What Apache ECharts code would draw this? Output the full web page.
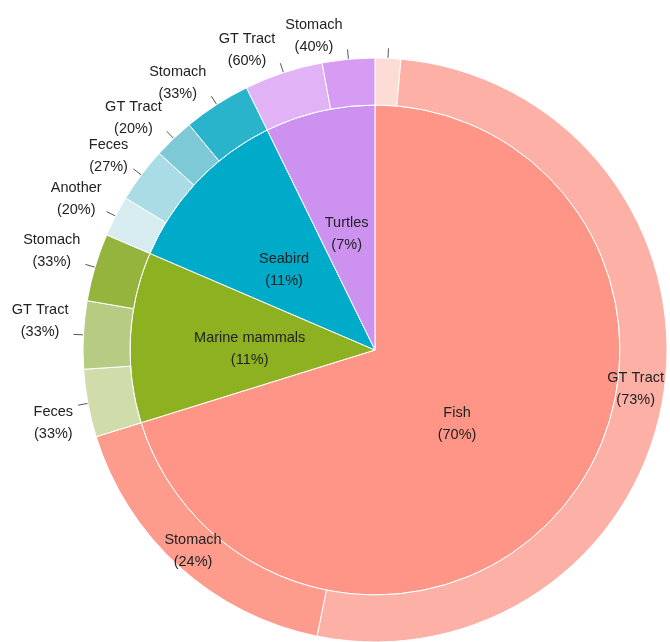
<!DOCTYPE html>
<html>
<head>
<meta charset="utf-8">
<script src="https://cdn.jsdelivr.net/npm/echarts@6/dist/echarts.min.js"></script>
<style>
  html, body { margin: 0; padding: 0; background: #fff; }
  #container { width: 670px; height: 642px; }
</style>
</head>
<body>
<div id="container"></div>
<script>
// inner pie: groups and their share (%)
var groups = ['Fish', 'Marine mammals', 'Seabird', 'Turtles'];
var groupShare = [70.2, 11.25, 11.3, 7.25];

// outer ring: sample types within each group (% of group)
var fishParts = ['', 'GT Tract', 'Stomach'];
var fishShare = [2, 73, 24];
var mammalParts = ['Feces', 'GT Tract', 'Stomach'];
var mammalShare = [33, 33, 33];
var birdParts = ['Another', 'Feces', 'GT Tract', 'Stomach'];
var birdShare = [20, 27, 20, 33];
var turtleParts = ['GT Tract', 'Stomach'];
var turtleShare = [60, 40];

var innerColors = ['#fe9587', '#8eb121', '#00aac9', '#cd92ef'];
var outerColors = [
  ['#fedcd6', '#fdb0a6', '#fd9b8d'],
  ['#d0dca9', '#b7cb82', '#95b43d'],
  ['#d6ecf1', '#aadce5', '#7ec9d6', '#2ab4cb'],
  ['#e2b2f6', '#d69bf2']
];

var dom = document.getElementById('container');
var myChart = echarts.init(dom);

var innerData = groups.map(function (g, i) {
  return {
    name: g,
    value: groupShare[i],
    itemStyle: { color: innerColors[i] },
    // nudge: big slice label sits a bit nearer the centre line
    label: { padding: i === 0 ? [0, 38, 0, 0] : [12, 0, 0, 0] }
  };
});

var subParts = [fishParts, mammalParts, birdParts, turtleParts];
var subShare = [fishShare, mammalShare, birdShare, turtleShare];
var grand = groupShare.reduce(function (a, b) { return a + b; }, 0);
var outerData = [];
var cum = 0;
subParts.forEach(function (parts, g) {
  var shares = subShare[g];
  var tot = shares.reduce(function (a, b) { return a + b; }, 0);
  parts.forEach(function (p, k) {
    var v = groupShare[g] * shares[k] / tot;
    var mid = (cum + v / 2) / grand * 360;   // degrees clockwise from top
    cum += v;
    var item = {
      name: p,
      value: v,
      share: shares[k],
      itemStyle: { color: outerColors[g][k] }
    };
    if (g === 0 && k > 0) {
      item.label = { position: 'inside', padding: mid < 180 ? [0, 16, 0, 0] : 0 };
      item.labelLine = { show: false };
    } else if (mid > 90 && mid < 270) {
      item.label = { padding: [36, 0, 0, 0] };   // text hangs below the leader
    } else {
      item.label = { padding: [0, 0, 26, 0] };   // text sits above the leader
    }
    outerData.push(item);
  });
});

var textStyle = { fontFamily: 'Liberation Sans, Arial, sans-serif', fontSize: 14.5, color: '#222' };

option = {
  animation: false,
  series: [{
    type: 'pie',
    center: [375, 350],
    radius: [0, 245],
    startAngle: 90,
    clockwise: true,
    silent: true,
    itemStyle: { borderColor: '#fff', borderWidth: 1 },
    label: {
      position: 'inner',
      formatter: function (p) {
        return '{t|' + p.name + '}\n{t|(' + Math.round(p.value) + '%)}';
      },
      rich: { t: Object.assign({ align: 'center', lineHeight: 22 }, textStyle) }
    },
    labelLayout: { hideOverlap: false },
    data: innerData
  }, {
    type: 'pie',
    center: [375, 350],
    radius: [245, 292],
    startAngle: 90,
    clockwise: true,
    silent: true,
    avoidLabelOverlap: false,
    itemStyle: { borderColor: '#fff', borderWidth: 1 },
    label: {
      position: 'outside',
      formatter: function (p) {
        if (!p.name) return ' ';
        return '{t|' + p.name + '}\n{t|(' + p.data.share + '%)}';
      },
      rich: { t: Object.assign({ align: 'center', lineHeight: 22 }, textStyle) }
    },
    labelLine: {
      length: 10,
      length2: 0,
      lineStyle: { color: '#555', width: 1 }
    },
    labelLayout: { hideOverlap: false },
    data: outerData
  }]
};

if (option && typeof option === 'object') {
  myChart.setOption(option, true);
}
</script>
</body>
</html>
